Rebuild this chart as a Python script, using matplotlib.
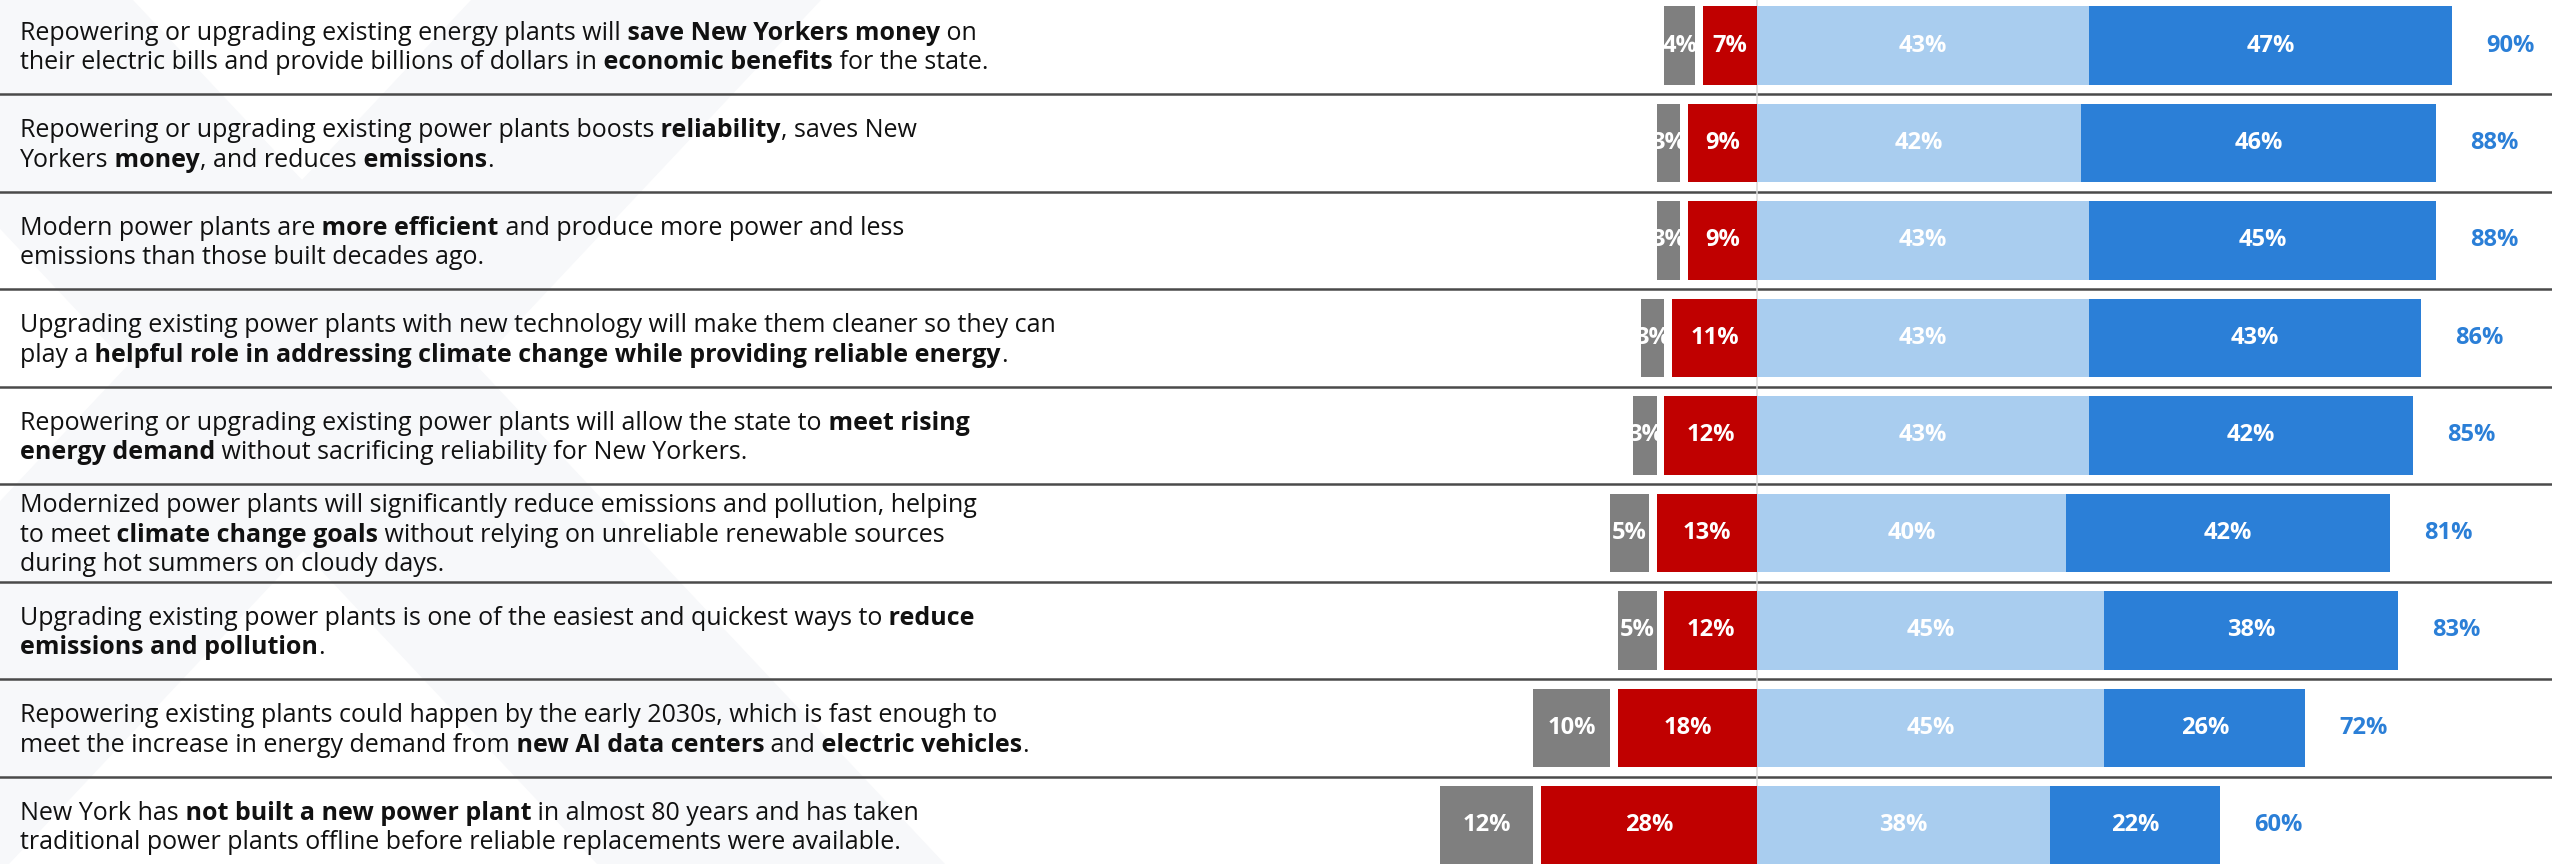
import matplotlib
matplotlib.use("Agg")
import matplotlib.pyplot as plt
import matplotlib.transforms as mtransforms
from matplotlib.patches import Polygon

plt.rcParams["font.family"] = ["Open Sans", "DejaVu Sans"]

# statements, ** marks bold runs
statements = [
    "Repowering or upgrading existing energy plants will **save New Yorkers money** on\n"
    "their electric bills and provide billions of dollars in **economic benefits** for the state.",
    "Repowering or upgrading existing power plants boosts **reliability**, saves New\n"
    "Yorkers **money**, and reduces **emissions**.",
    "Modern power plants are **more efficient** and produce more power and less\n"
    "emissions than those built decades ago.",
    "Upgrading existing power plants with new technology will make them cleaner so they can\n"
    "play a **helpful role in addressing climate change while providing reliable energy**.",
    "Repowering or upgrading existing power plants will allow the state to **meet rising\n"
    "energy demand** without sacrificing reliability for New Yorkers.",
    "Modernized power plants will significantly reduce emissions and pollution, helping\n"
    "to meet **climate change goals** without relying on unreliable renewable sources\n"
    "during hot summers on cloudy days.",
    "Upgrading existing power plants is one of the easiest and quickest ways to **reduce\n"
    "emissions and pollution**.",
    "Repowering existing plants could happen by the early 2030s, which is fast enough to\n"
    "meet the increase in energy demand from **new AI data centers** and **electric vehicles**.",
    "New York has **not built a new power plant** in almost 80 years and has taken\n"
    "traditional power plants offline before reliable replacements were available.",
]

not_sure = [4, 3, 3, 3, 3, 5, 5, 10, 12]
disagree = [7, 9, 9, 11, 12, 13, 12, 18, 28]
somewhat_agree = [43, 42, 43, 43, 43, 40, 45, 45, 38]
strongly_agree = [47, 46, 45, 43, 42, 42, 38, 26, 22]
total_agree = [90, 88, 88, 86, 85, 81, 83, 72, 60]

GRAY = "#7f7f7f"
RED = "#c00000"
LIGHT = "#a9cdef"
BLUE = "#2b7fd7"

W, H = 2552, 864
ZERO_PX, PX_PER_PCT = 1757, 7.72
ROW_PX, ROW0_PX = 97.5, 45.5
GAP = 1.0          # gap between "not sure" and "disagree" bars, in %
BAR_H = 0.806
LINE_PX = 29.5
FS_TEXT = 18
FS_LAB = 17


def parse_rich(s):
    """Split '**bold**' markup into lines of (text, bold) segments.
    Spaces are moved to the front of the next run so chained texts keep them."""
    lines = [[]]
    for k, chunk in enumerate(s.split("**")):
        bold = k % 2 == 1
        for j, part in enumerate(chunk.split("\n")):
            if j > 0:
                lines.append([])
            if part:
                lines[-1].append([part, bold])
    for line in lines:
        for a, b in zip(line[:-1], line[1:]):
            if a[0].endswith(" "):
                a[0] = a[0].rstrip(" ")
                b[0] = " " + b[0]
    return lines


def rich_line(ax, x, y, segs, trans):
    prev = None
    for text, bold in segs:
        kw = dict(fontsize=FS_TEXT, color="#111111", fontweight="bold" if bold else "normal")
        if prev is None:
            prev = ax.text(x, y, text, transform=trans, va="baseline", ha="left", **kw)
        else:
            prev = ax.annotate(text, xy=(1, 0), xycoords=prev, va="bottom", ha="left", **kw)


fig = plt.figure(figsize=(W / 100, H / 100), dpi=100)
ax = fig.add_axes([0, 0, 1, 1])
ax.set_xlim(-ZERO_PX / PX_PER_PCT, (W - ZERO_PX) / PX_PER_PCT)
ax.set_ylim((H - ROW0_PX) / ROW_PX, -ROW0_PX / ROW_PX)
ax.axis("off")

# faint background watermark
wm = "#f7f8fa"
for pts in ([(-215, 0), (133, 0), (945, 864), (597, 864)],
            [(471, 0), (821, 0), (9, 864), (-341, 864)]):
    ax.add_patch(Polygon([(px / W, 1 - py / H) for px, py in pts],
                         closed=True, transform=fig.transFigure,
                         facecolor=wm, edgecolor="none", zorder=0))

n = len(statements)
rows = list(range(n))

# separators and zero line
for i in rows[:-1]:
    ax.axhline(i + 0.5, color="#4a4a4a", lw=1.8, zorder=1)
ax.axvline(0, color="#d9d9d9", lw=1.1, zorder=2)

# bars
ax.barh(rows, [-v for v in disagree], height=BAR_H, color=RED, zorder=3)
ax.barh(rows, [-v for v in not_sure], left=[-(d + GAP) for d in disagree],
        height=BAR_H, color=GRAY, zorder=3)
ax.barh(rows, somewhat_agree, height=BAR_H, color=LIGHT, zorder=3)
ax.barh(rows, strongly_agree, left=somewhat_agree, height=BAR_H, color=BLUE, zorder=3)

lab = dict(color="white", fontsize=FS_LAB, fontweight="bold", ha="center", va="center", zorder=4)
for i in rows:
    ax.text(-disagree[i] / 2, i, f"{disagree[i]}%", **lab)
    ax.text(-(disagree[i] + GAP + not_sure[i] / 2), i, f"{not_sure[i]}%", **lab)
    ax.text(somewhat_agree[i] / 2, i, f"{somewhat_agree[i]}%", **lab)
    ax.text(somewhat_agree[i] + strongly_agree[i] / 2, i, f"{strongly_agree[i]}%", **lab)
    ax.text(somewhat_agree[i] + strongly_agree[i] + 4.4, i, f"{total_agree[i]}%",
            color=BLUE, fontsize=FS_LAB, fontweight="bold", ha="left", va="center", zorder=4)

# statement text on the left
trans = mtransforms.blended_transform_factory(ax.transAxes, ax.transData)
line_step = LINE_PX / ROW_PX
cap_half = 8.9 / ROW_PX
for i, s in enumerate(statements):
    lines = parse_rich(s)
    for j, segs in enumerate(lines):
        y = i + (j - (len(lines) - 1) / 2) * line_step + cap_half
        rich_line(ax, 20 / W, y, segs, trans)

fig.savefig("out.png", dpi=100, facecolor="white")
